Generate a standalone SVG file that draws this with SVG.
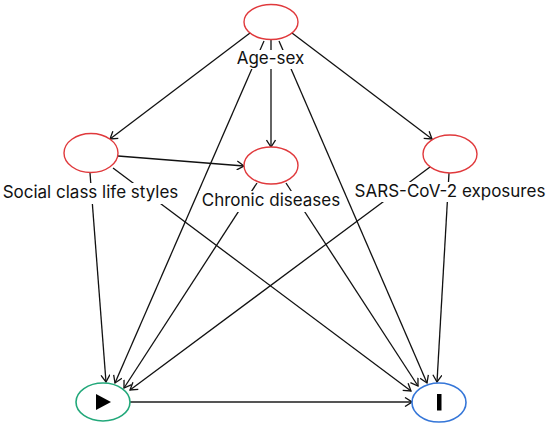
<svg xmlns="http://www.w3.org/2000/svg" width="550" height="425" viewBox="0 0 550 425">
<style>
.var{fill:#fff;stroke:#e0393c;stroke-width:1.4}
.exp{fill:#fff;stroke:#22a87a;stroke-width:1.6}
.out{fill:#fff;stroke:#3576d8;stroke-width:1.6}
.lbl{font-family:Inter,"Liberation Sans",Arial,sans-serif;font-size:17px;fill:#111;text-anchor:middle}
.bg{fill:#fff}
.edge{stroke:#111;stroke-width:1.3;fill:none;marker-end:url(#arr)}
.main{stroke:#555;stroke-width:2;fill:none;marker-end:url(#arr)}
</style>
<defs>
<marker id="arr" markerUnits="userSpaceOnUse" viewBox="-8 -5 9 10" refX="0" refY="0" markerWidth="9" markerHeight="10" orient="auto">
<path d="M-7,-4.5 L0,0 L-7,4.5" fill="none" stroke="#111" stroke-width="1.3"/>
</marker>
</defs>
<rect width="550" height="425" fill="#fff"/>
<g id="connectors">
<line class="edge" x1="250" y1="33" x2="110" y2="139"/>
<line class="edge" x1="271" y1="40" x2="271" y2="147"/>
<line class="edge" x1="292" y1="33" x2="432" y2="139"/>
<line class="edge" x1="264" y1="41" x2="115" y2="383"/>
<line class="edge" x1="279" y1="41" x2="427" y2="383"/>
<line class="edge" x1="118" y1="156" x2="244" y2="166"/>
<line class="edge" x1="90" y1="173" x2="106" y2="382"/>
<line class="edge" x1="113" y1="168" x2="411" y2="391"/>
<line class="edge" x1="257" y1="183" x2="124" y2="388"/>
<line class="edge" x1="286" y1="183" x2="418" y2="386"/>
<line class="edge" x1="430" y1="167" x2="130" y2="390"/>
<line class="edge" x1="449" y1="173" x2="437" y2="382"/>
<line class="main" x1="130" y1="402" x2="412" y2="402"/>
</g>
<g id="age-sex">
<ellipse class="var" cx="271" cy="22" rx="27" ry="17.5"/>
<rect class="bg" x="235" y="50" width="71" height="19"/>
<text class="lbl" x="270.5" y="64">Age-sex</text>
</g>
<g id="social-class">
<ellipse class="var" cx="91" cy="153" rx="27" ry="19.5"/>
<rect class="bg" x="1" y="183" width="180" height="21"/>
<text class="lbl" x="90.5" y="198">Social class life styles</text>
</g>
<g id="chronic-diseases">
<ellipse class="var" cx="271" cy="165.5" rx="27" ry="18.5"/>
<rect class="bg" x="199" y="191" width="143" height="21"/>
<text class="lbl" x="271" y="206">Chronic diseases</text>
</g>
<g id="sars-cov-2">
<ellipse class="var" cx="450" cy="154" rx="27" ry="19"/>
<rect class="bg" x="352" y="182" width="197" height="20"/>
<text class="lbl" x="450" y="197">SARS-CoV-2 exposures</text>
</g>
<g id="exposure">
<ellipse class="exp" cx="103" cy="402" rx="27" ry="19"/>
<polygon points="96,394 96,410 111,402" fill="#000"/>
</g>
<g id="outcome">
<ellipse class="out" cx="439" cy="402.5" rx="27" ry="19.5"/>
<rect x="437" y="394" width="4.5" height="16.5" fill="#000"/>
</g>
</svg>
